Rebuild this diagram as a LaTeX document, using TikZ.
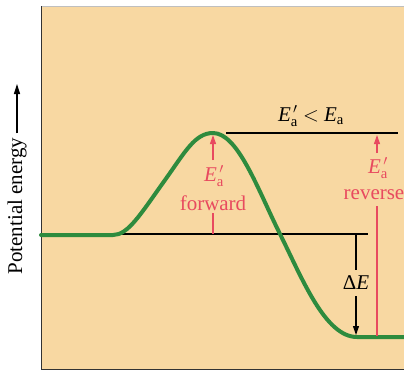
\documentclass[tikz,border=0pt]{standalone}
\usepackage{amsmath}
\usepackage{fontspec}
\setmainfont{Liberation Serif}
\usetikzlibrary{arrows.meta}
\definecolor{panel}{HTML}{F8D8A2}
\definecolor{curve}{HTML}{2E8B3E}
\definecolor{act}{HTML}{E84A5F}
\newcommand{\Eap}{{\itshape E}$_{\text{a}}^{\,\prime}$}
\newcommand{\Ea}{{\itshape E}$_{\text{a}}$}
\tikzset{
  lab/.style={font=\fontsize{21}{22}\selectfont, inner sep=0pt, align=center},
  redlab/.style={lab, text=act},
  level/.style={draw=black, line width=1.1pt},
  redline/.style={draw=act, line width=1.1pt},
  redarrow/.style={redline, -{Triangle[length=9pt,width=6pt]}},
  blackarrow/.style={level, -{Triangle[length=9pt,width=6pt]}},
}
\begin{document}
\begin{tikzpicture}[x=1pt,y=-1pt]
\useasboundingbox (0,0) rectangle (404,373);
\fill[white] (0,0) rectangle (404,373);
% panel
\fill[panel] (41,6) rectangle (404,369);
\draw[gray!50, line width=0.6pt] (41,6) -- (404,6);
\draw[black!80, line width=1pt] (41,6) -- (41,369) -- (404,369);
% axis label
\node[lab, rotate=90] (ylab) at (17,206) {Potential energy};
\coordinate (ytip) at (17,84);
\draw[black, line width=1.2pt, -{Triangle[length=10pt,width=6pt]}] (ylab.east) ++(0,-4) -- (ytip);
% energy levels
\coordinate (topL) at (226,133);
\coordinate (topR) at (398,133);
\coordinate (midL) at (118,234);
\coordinate (midR) at (368,234);
\draw[level] (topL) -- (topR);
\draw[level] (midL) -- (midR);
% curve
\draw[curve, line width=4pt, line cap=round, line join=round]
  (41,235) -- (113,235)
  .. controls (128,235) and (140,215) .. (165,180)
  .. controls (185,152) and (195,133) .. (213,133)
  .. controls (238,133) and (258,190) .. (280,234)
  .. controls (302,278) and (325,337) .. (357,337)
  -- (404,337);
% top label
\node[lab] (cmp) at (311,116) {\Eap\ $<$ \Ea};
% forward
\node[redlab] (fwdE) at (214,176) {\Eap};
\node[redlab] (fwd) at (213,203) {forward};
\coordinate (fwdtop) at (213,135);
\coordinate (fwdbot) at (213,234);
\draw[redarrow] (213,160) -- (fwdtop);
\draw[redline] (213,213) -- (fwdbot);
% reverse
\node[redlab] (revE) at (378,168) {\Eap};
\node[redlab] (rev) at (374,195) {reverse};
\coordinate (revtop) at (377,135);
\coordinate (revbot) at (377,336);
\draw[redarrow] (377,153) -- (revtop);
\draw[redline] (377,206) -- (revbot);
% delta E
\node[lab] (dE) at (356,283) {Δ\textit{E}};
\coordinate (dEtop) at (356,234);
\coordinate (dEbot) at (356,335);
\draw[level] (dEtop) -- (356,270);
\draw[blackarrow] (356,296) -- (dEbot);
\end{tikzpicture}
\end{document}
